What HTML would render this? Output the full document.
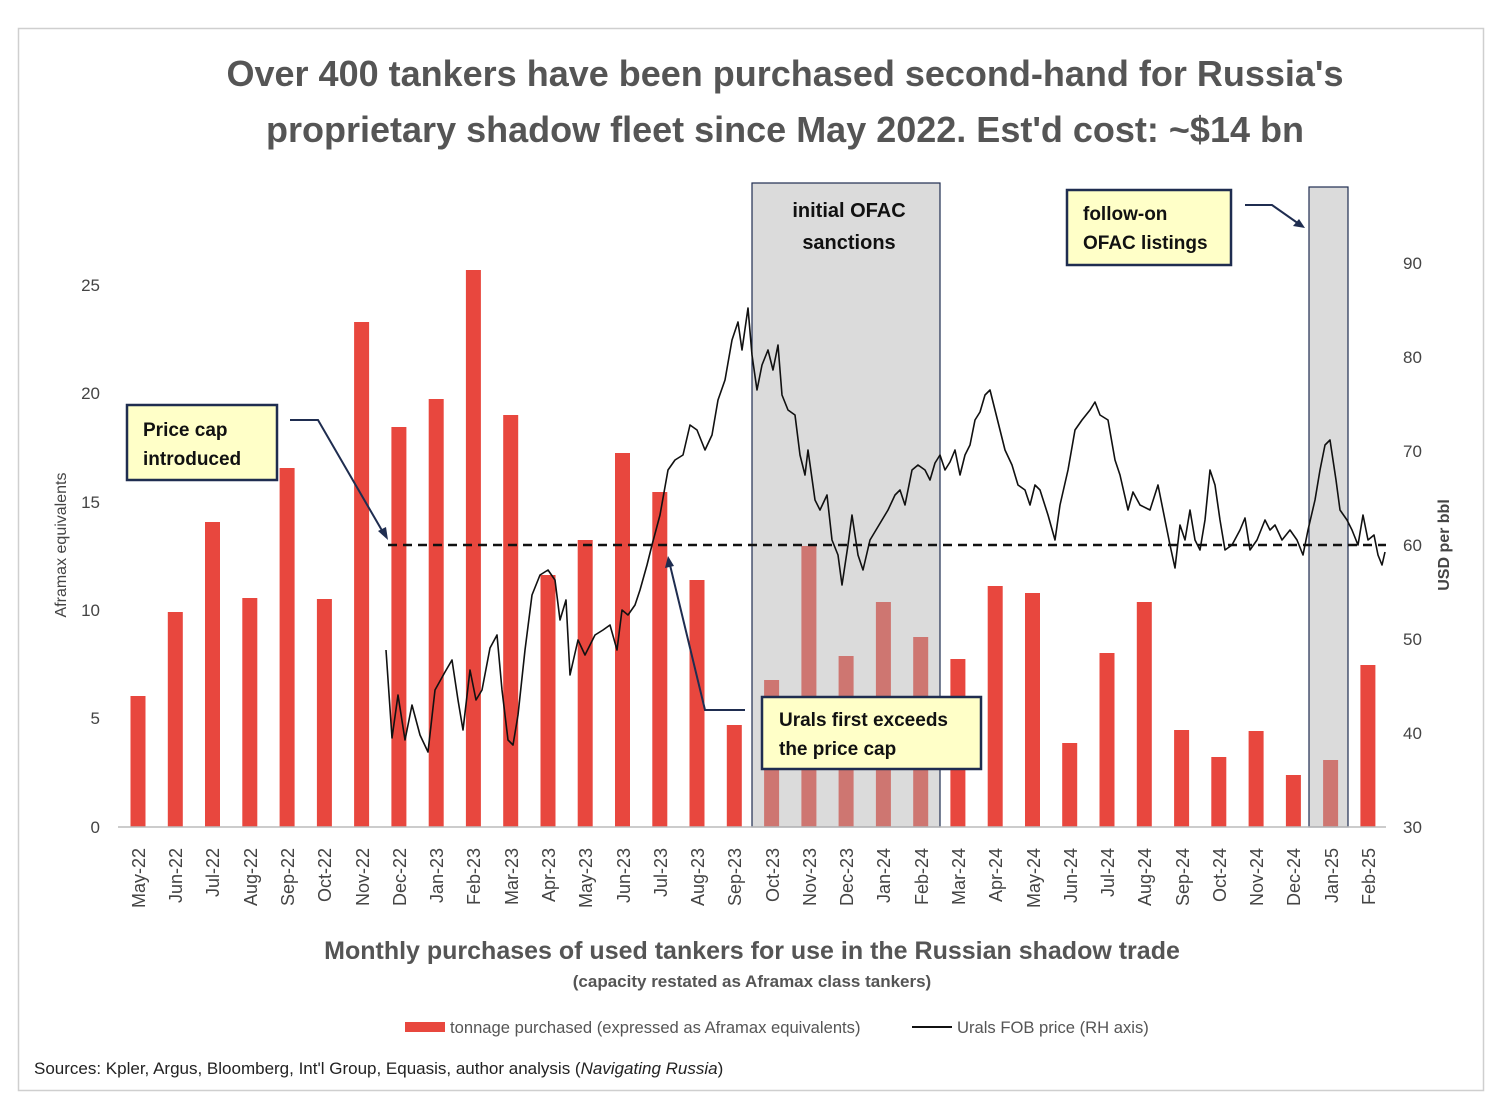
<!DOCTYPE html>
<html><head><meta charset="utf-8"><style>
body{margin:0;background:#fff;width:1500px;height:1108px;overflow:hidden}
svg{display:block;font-family:"Liberation Sans",sans-serif}
</style></head><body>
<svg width="1500" height="1108" viewBox="0 0 1500 1108">
<rect x="18.5" y="28.5" width="1465" height="1062" fill="#fff" stroke="#cfcfcf" stroke-width="1.5"/>
<g fill="#555" font-weight="bold" font-size="36" text-anchor="middle">
<text x="785" y="86">Over 400 tankers have been purchased second-hand for Russia's</text>
<text x="785" y="142">proprietary shadow fleet since May 2022. Est'd cost: ~$14 bn</text>
</g>
<g fill="#e8473e">
<rect x="130.5" y="696" width="15" height="131"/>
<rect x="167.8" y="612" width="15" height="215"/>
<rect x="205" y="522" width="15" height="305"/>
<rect x="242.3" y="598" width="15" height="229"/>
<rect x="279.6" y="468" width="15" height="359"/>
<rect x="316.9" y="599" width="15" height="228"/>
<rect x="354.1" y="322" width="15" height="505"/>
<rect x="391.4" y="427" width="15" height="400"/>
<rect x="428.7" y="399" width="15" height="428"/>
<rect x="465.9" y="270" width="15" height="557"/>
<rect x="503.2" y="415" width="15" height="412"/>
<rect x="540.5" y="575" width="15" height="252"/>
<rect x="577.7" y="540" width="15" height="287"/>
<rect x="615" y="453" width="15" height="374"/>
<rect x="652.3" y="492" width="15" height="335"/>
<rect x="689.5" y="580" width="15" height="247"/>
<rect x="726.8" y="725" width="15" height="102"/>
<rect x="764.1" y="680" width="15" height="147"/>
<rect x="801.4" y="546" width="15" height="281"/>
<rect x="838.6" y="656" width="15" height="171"/>
<rect x="875.9" y="602" width="15" height="225"/>
<rect x="913.2" y="637" width="15" height="190"/>
<rect x="950.4" y="659" width="15" height="168"/>
<rect x="987.7" y="586" width="15" height="241"/>
<rect x="1025" y="593" width="15" height="234"/>
<rect x="1062.2" y="743" width="15" height="84"/>
<rect x="1099.5" y="653" width="15" height="174"/>
<rect x="1136.8" y="602" width="15" height="225"/>
<rect x="1174.1" y="730" width="15" height="97"/>
<rect x="1211.3" y="757" width="15" height="70"/>
<rect x="1248.6" y="731" width="15" height="96"/>
<rect x="1285.9" y="775" width="15" height="52"/>
<rect x="1323.1" y="760" width="15" height="67"/>
<rect x="1360.4" y="665" width="15" height="162"/>
</g>
<rect x="752" y="183" width="188" height="644" fill="#b0b0b0" fill-opacity="0.45" stroke="#1f2d50" stroke-width="1.2"/>
<rect x="1309" y="187" width="39" height="640" fill="#b0b0b0" fill-opacity="0.45" stroke="#1f2d50" stroke-width="1.2"/>
<line x1="118" y1="827" x2="1386" y2="827" stroke="#bbb" stroke-width="1.5"/>
<g fill="#444" font-size="17" text-anchor="end">
<text x="100" y="833">0</text><text x="100" y="724">5</text><text x="100" y="616">10</text>
<text x="100" y="508">15</text><text x="100" y="399">20</text><text x="100" y="291">25</text>
</g>
<g fill="#444" font-size="17" text-anchor="start">
<text x="1403" y="833">30</text><text x="1403" y="739">40</text><text x="1403" y="645">50</text>
<text x="1403" y="551">60</text><text x="1403" y="457">70</text><text x="1403" y="363">80</text><text x="1403" y="269">90</text>
</g>
<text transform="translate(66,545) rotate(-90)" font-size="16" fill="#444" text-anchor="middle">Aframax equivalents</text>
<text transform="translate(1449,545) rotate(-90)" font-size="16" fill="#444" font-weight="bold" text-anchor="middle">USD per bbl</text>
<g fill="#444" font-size="18" text-anchor="end">
<text transform="translate(145,848) rotate(-90)">May-22</text>
<text transform="translate(182,848) rotate(-90)">Jun-22</text>
<text transform="translate(219,848) rotate(-90)">Jul-22</text>
<text transform="translate(257,848) rotate(-90)">Aug-22</text>
<text transform="translate(294,848) rotate(-90)">Sep-22</text>
<text transform="translate(331,848) rotate(-90)">Oct-22</text>
<text transform="translate(369,848) rotate(-90)">Nov-22</text>
<text transform="translate(406,848) rotate(-90)">Dec-22</text>
<text transform="translate(443,848) rotate(-90)">Jan-23</text>
<text transform="translate(480,848) rotate(-90)">Feb-23</text>
<text transform="translate(518,848) rotate(-90)">Mar-23</text>
<text transform="translate(555,848) rotate(-90)">Apr-23</text>
<text transform="translate(592,848) rotate(-90)">May-23</text>
<text transform="translate(630,848) rotate(-90)">Jun-23</text>
<text transform="translate(667,848) rotate(-90)">Jul-23</text>
<text transform="translate(704,848) rotate(-90)">Aug-23</text>
<text transform="translate(741,848) rotate(-90)">Sep-23</text>
<text transform="translate(779,848) rotate(-90)">Oct-23</text>
<text transform="translate(816,848) rotate(-90)">Nov-23</text>
<text transform="translate(853,848) rotate(-90)">Dec-23</text>
<text transform="translate(890,848) rotate(-90)">Jan-24</text>
<text transform="translate(928,848) rotate(-90)">Feb-24</text>
<text transform="translate(965,848) rotate(-90)">Mar-24</text>
<text transform="translate(1002,848) rotate(-90)">Apr-24</text>
<text transform="translate(1040,848) rotate(-90)">May-24</text>
<text transform="translate(1077,848) rotate(-90)">Jun-24</text>
<text transform="translate(1114,848) rotate(-90)">Jul-24</text>
<text transform="translate(1151,848) rotate(-90)">Aug-24</text>
<text transform="translate(1189,848) rotate(-90)">Sep-24</text>
<text transform="translate(1226,848) rotate(-90)">Oct-24</text>
<text transform="translate(1263,848) rotate(-90)">Nov-24</text>
<text transform="translate(1300,848) rotate(-90)">Dec-24</text>
<text transform="translate(1338,848) rotate(-90)">Jan-25</text>
<text transform="translate(1375,848) rotate(-90)">Feb-25</text>
</g>
<line x1="388" y1="545" x2="1386" y2="545" stroke="#111" stroke-width="2.5" stroke-dasharray="9,6"/>
<polyline fill="none" stroke="#111" stroke-width="1.6" stroke-linejoin="round" points="386,650 392,738 398,695 405,740 412,705 420,735 428,752 435,690 445,672 452,660 458,700 463,730 470,670 476,700 482,690 490,648 497,635 502,690 508,740 513,745 518,715 525,650 532,595 540,575 548,570 555,580 560,620 566,600 570,675 578,640 585,655 595,635 603,630 610,625 617,650 622,610 628,615 635,605 640,590 647,565 652,545 660,515 668,470 675,460 683,455 690,425 697,430 705,450 712,435 718,400 725,380 732,340 738,322 742,350 748,308 752,355 757,390 762,365 768,350 773,370 778,345 782,395 788,410 795,415 800,455 805,475 808,450 815,500 820,510 827,495 832,540 838,555 842,585 848,545 852,515 858,555 863,570 870,540 876,530 882,520 888,510 895,495 900,490 905,505 912,470 918,465 925,470 930,480 935,463 940,455 945,470 950,462 955,450 960,475 965,455 970,445 975,420 980,412 985,395 990,390 995,410 1000,430 1005,450 1012,465 1018,485 1025,490 1030,505 1035,485 1040,490 1048,515 1055,540 1060,505 1068,470 1075,430 1082,420 1090,410 1095,402 1100,415 1108,420 1115,460 1120,475 1128,510 1133,492 1140,505 1150,510 1158,485 1165,520 1170,545 1175,568 1180,525 1185,540 1190,510 1195,540 1200,550 1205,520 1210,470 1215,485 1220,520 1225,550 1232,545 1240,530 1245,518 1250,550 1257,540 1265,520 1270,530 1275,525 1282,540 1290,530 1297,540 1303,555 1308,530 1315,500 1320,470 1325,445 1330,440 1336,480 1340,510 1347,520 1352,530 1358,545 1363,515 1368,540 1374,535 1378,555 1382,565 1385,552"/>
<g fill="#111" font-weight="bold" font-size="20" text-anchor="middle">
<text x="849" y="217">initial OFAC</text><text x="849" y="249">sanctions</text>
</g>
<rect x="127" y="405" width="150" height="75" fill="#ffffc8" stroke="#1f2d50" stroke-width="2.5"/>
<g fill="#111" font-weight="bold" font-size="19"><text x="143" y="436">Price cap</text><text x="143" y="465">introduced</text></g>
<polyline points="290,420 318,420 384,534" fill="none" stroke="#1f2d50" stroke-width="2"/>
<polygon points="388,540 378,531 386,527" fill="#1f2d50"/>
<rect x="762" y="697" width="219" height="72" fill="#ffffc8" stroke="#1f2d50" stroke-width="2.5"/>
<g fill="#111" font-weight="bold" font-size="19"><text x="779" y="726">Urals first exceeds</text><text x="779" y="755">the price cap</text></g>
<polyline points="745,710 705,710 670,565" fill="none" stroke="#1f2d50" stroke-width="2"/>
<polygon points="668,556 665,568 674,566" fill="#1f2d50"/>
<rect x="1067" y="190" width="164" height="75" fill="#ffffc8" stroke="#1f2d50" stroke-width="2.5"/>
<g fill="#111" font-weight="bold" font-size="19"><text x="1083" y="220">follow-on</text><text x="1083" y="249">OFAC listings</text></g>
<polyline points="1245,205 1272,205 1299,224" fill="none" stroke="#1f2d50" stroke-width="2"/>
<polygon points="1305,228 1293,226 1299,219" fill="#1f2d50"/>
<text x="752" y="959" fill="#555" font-weight="bold" font-size="25" text-anchor="middle">Monthly purchases of used tankers for use in the Russian shadow trade</text>
<text x="752" y="987" fill="#555" font-weight="bold" font-size="17" text-anchor="middle">(capacity restated as Aframax class tankers)</text>
<rect x="405" y="1022" width="40" height="10" fill="#e8473e"/>
<text x="450" y="1033" fill="#555" font-size="16.6">tonnage purchased (expressed as Aframax equivalents)</text>
<line x1="912" y1="1027" x2="952" y2="1027" stroke="#111" stroke-width="2"/>
<text x="957" y="1033" fill="#555" font-size="16.6">Urals FOB price (RH axis)</text>
<text x="34" y="1074" fill="#222" font-size="17">Sources: Kpler, Argus, Bloomberg, Int'l Group, Equasis, author analysis (<tspan font-style="italic">Navigating Russia</tspan>)</text>
</svg>
</body></html>
